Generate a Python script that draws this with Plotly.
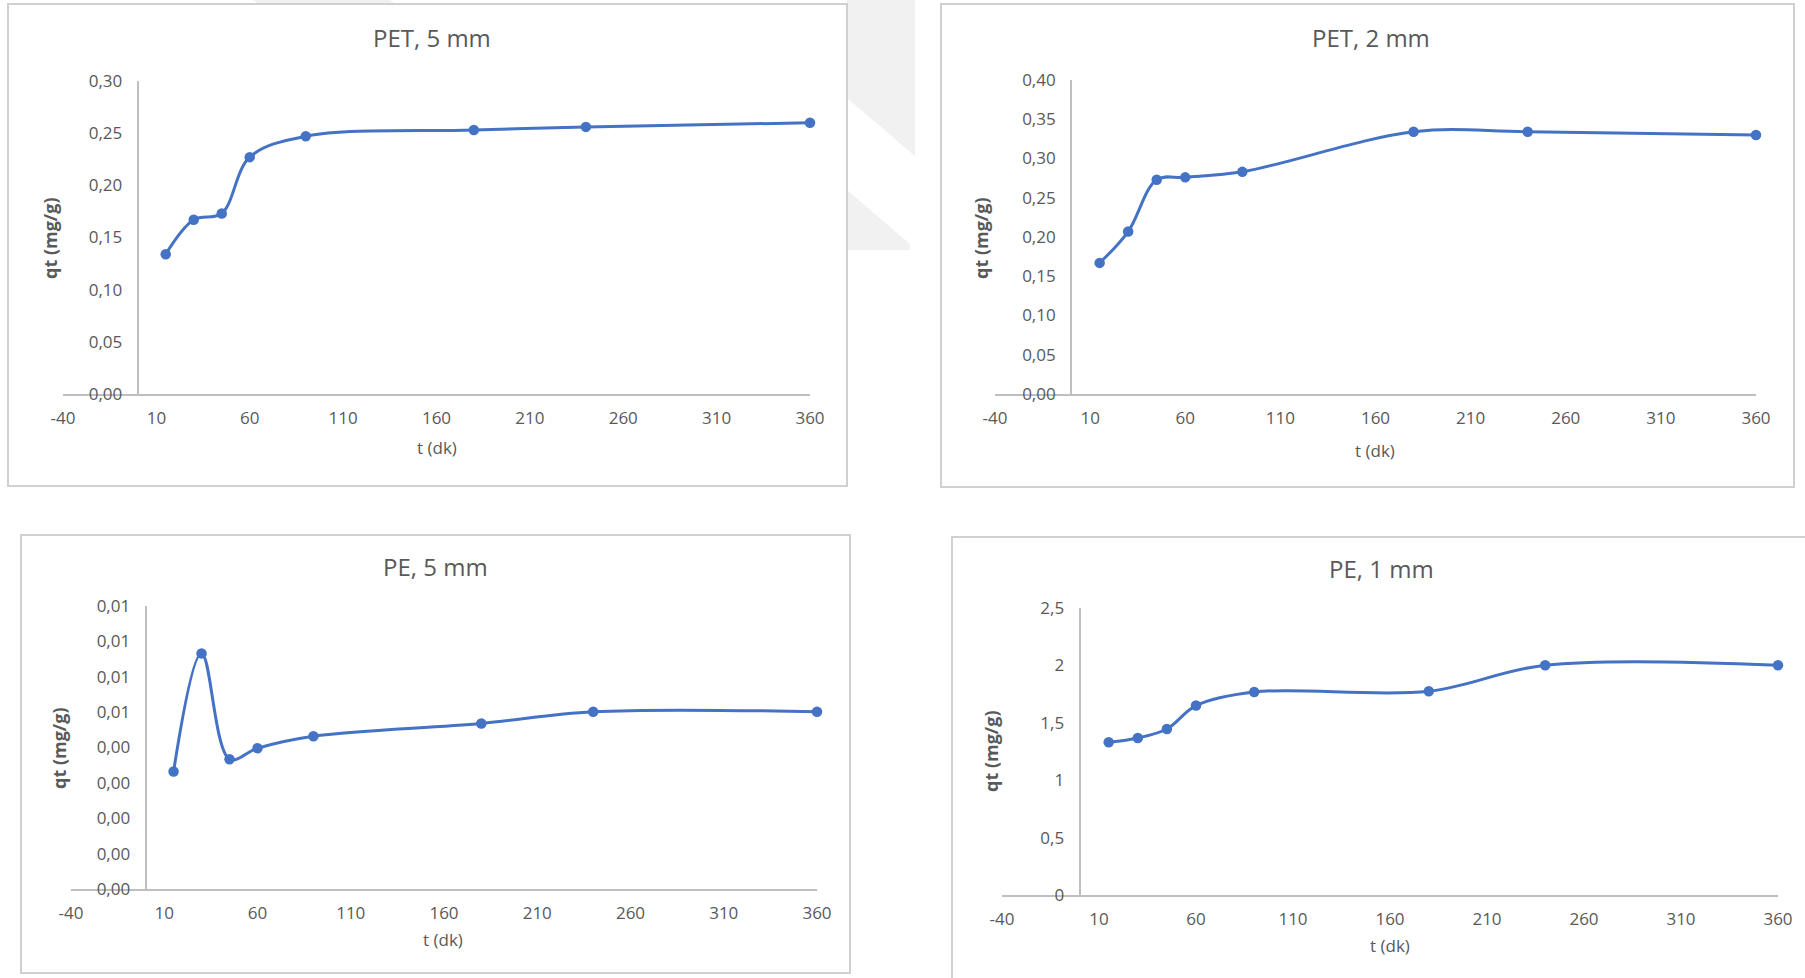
import plotly.graph_objects as go

W, H = 1805, 978

# Contact time (min) and adsorbed amount qt (mg/g) for each sample
t_min = [15, 30, 45, 60, 90, 180, 240, 360]
qt_pet_5mm = [0.134, 0.167, 0.173, 0.227, 0.247, 0.253, 0.256, 0.260]
qt_pet_2mm = [0.167, 0.207, 0.273, 0.276, 0.283, 0.334, 0.334, 0.330]
qt_pe_5mm = [0.00332, 0.00666, 0.00367, 0.00398, 0.00432, 0.00468, 0.00501, 0.00501]
qt_pe_1mm = [1.330, 1.368, 1.446, 1.650, 1.769, 1.775, 2.002, 2.002]

titles = ["PET, 5 mm", "PET, 2 mm", "PE, 5 mm", "PE, 1 mm"]
x_title = "t (dk)"
y_title = "qt (mg/g)"

x_ticks = [-40, 10, 60, 110, 160, 210, 260, 310, 360]
x_ticktext = ["-40", "10", "60", "110", "160", "210", "260", "310", "360"]

y_ticks_pet_5mm = [0.00, 0.05, 0.10, 0.15, 0.20, 0.25, 0.30]
y_text_pet_5mm = ["0,00", "0,05", "0,10", "0,15", "0,20", "0,25", "0,30"]
y_ticks_pet_2mm = [0.00, 0.05, 0.10, 0.15, 0.20, 0.25, 0.30, 0.35, 0.40]
y_text_pet_2mm = ["0,00", "0,05", "0,10", "0,15", "0,20", "0,25", "0,30", "0,35", "0,40"]
y_ticks_pe_5mm = [0.000, 0.001, 0.002, 0.003, 0.004, 0.005, 0.006, 0.007, 0.008]
y_text_pe_5mm = ["0,00", "0,00", "0,00", "0,00", "0,00", "0,01", "0,01", "0,01", "0,01"]
y_ticks_pe_1mm = [0, 0.5, 1, 1.5, 2, 2.5]
y_text_pe_1mm = ["0", "0,5", "1", "1,5", "2", "2,5"]

series = [qt_pet_5mm, qt_pet_2mm, qt_pe_5mm, qt_pe_1mm]
y_ticks = [y_ticks_pet_5mm, y_ticks_pet_2mm, y_ticks_pe_5mm, y_ticks_pe_1mm]
y_texts = [y_text_pet_5mm, y_text_pet_2mm, y_text_pe_5mm, y_text_pe_1mm]

# Layout geometry in pixels
plot_boxes = [  # left, right, top, bottom of each plotting area
    (63, 810, 81, 394),
    (995, 1756, 80, 394),
    (71, 817, 606, 889),
    (1002, 1778, 608, 895),
]
frames = [  # chart-area frames
    (8, 847, 4, 486),
    (941, 1794, 4, 487),
    (21, 850, 535, 973),
    (952, 1815, 537, 990),
]
title_pos = [(432, 38), (1371, 37), (435, 566), (1381, 568)]
xtitle_pos = [(437, 448), (1375, 450), (443, 939), (1390, 945)]
ytitle_pos = [(50, 238), (981, 238), (59, 748), (991, 751)]

FONT = "Open Sans, Carlito, Calibri, sans-serif"
TXT = "#595959"
AXIS = "#BFBFBF"
BLUE = "#4472C4"
X_RANGE = [-40, 360]


def px_x(v):
    return v / W


def px_y(v):
    return 1 - v / H


def poly(points):
    return "M " + " L ".join("{},{}".format(px_x(x), px_y(y)) for x, y in points) + " Z"


fig = go.Figure()
layout = dict(
    width=W, height=H,
    margin=dict(l=0, r=0, t=0, b=0, autoexpand=False),
    paper_bgcolor="white", plot_bgcolor="rgba(0,0,0,0)",
    showlegend=False,
    font=dict(family=FONT, color=TXT),
    shapes=[], annotations=[],
)

# faint diagonal strokes of the page background mark
for pts in [
    [(253, 0), (390, 0), (470, 60), (333, 60)],
    [(847, 0), (915, 0), (915, 156), (847, 98)],
    [(847, 190), (910, 244), (910, 250), (847, 250)],
]:
    layout["shapes"].append(dict(
        type="path", xref="paper", yref="paper", layer="below",
        path=poly(pts), fillcolor="#F1F1F1", line=dict(width=0),
    ))

for i in range(4):
    n = "" if i == 0 else str(i + 1)
    xa, ya = "x" + n, "y" + n
    l, r, t, b = plot_boxes[i]

    # chart frame
    fl, fr, ft, fb = frames[i]
    layout["shapes"].append(dict(
        type="rect", xref="paper", yref="paper", layer="below",
        x0=px_x(fl), x1=px_x(fr), y0=px_y(fb), y1=px_y(ft),
        fillcolor="white", line=dict(color="#D0D0D0", width=2),
    ))

    fig.add_trace(go.Scatter(
        x=t_min, y=series[i], xaxis=xa, yaxis=ya,
        mode="lines+markers",
        line=dict(color=BLUE, width=3, shape="spline", smoothing=1),
        marker=dict(color=BLUE, size=10.5),
        cliponaxis=False,
    ))

    yt = y_ticks[i]
    # vertical axis crosses the horizontal axis at t = 0
    y_axis_px = l + (0 - X_RANGE[0]) / (X_RANGE[1] - X_RANGE[0]) * (r - l)

    layout["xaxis" + n] = dict(
        domain=[px_x(l), px_x(r)], anchor=ya, range=X_RANGE,
        tickvals=x_ticks, ticktext=x_ticktext,
        showgrid=False, zeroline=False, ticks="",
        showline=True, linecolor=AXIS, linewidth=2,
        tickfont=dict(family=FONT, size=17, color=TXT),
        ticklabelstandoff=8, automargin=False,
    )
    layout["yaxis" + n] = dict(
        domain=[px_y(b), px_y(t)], anchor="free",
        position=px_x(y_axis_px), range=[yt[0], yt[-1]],
        tickvals=yt, ticktext=y_texts[i],
        showgrid=False, zeroline=False, ticks="",
        showline=True, linecolor=AXIS, linewidth=2,
        tickfont=dict(family=FONT, size=17, color=TXT),
        ticklabelstandoff=11, automargin=False,
    )

    tx, ty = title_pos[i]
    layout["annotations"].append(dict(
        text=titles[i], xref="paper", yref="paper", x=px_x(tx), y=px_y(ty),
        xanchor="center", yanchor="middle", showarrow=False,
        font=dict(family=FONT, size=24, color=TXT),
    ))
    xx, xy = xtitle_pos[i]
    layout["annotations"].append(dict(
        text=x_title, xref="paper", yref="paper", x=px_x(xx), y=px_y(xy),
        xanchor="center", yanchor="middle", showarrow=False,
        font=dict(family=FONT, size=17, color=TXT),
    ))
    yx, yy = ytitle_pos[i]
    layout["annotations"].append(dict(
        text="<b>" + y_title + "</b>", xref="paper", yref="paper",
        x=px_x(yx), y=px_y(yy), textangle=-90,
        xanchor="center", yanchor="middle", showarrow=False,
        font=dict(family=FONT, size=18, color=TXT),
    ))

fig.update_layout(**layout)
fig.write_html(
    "out.html",
    post_script="document.body.style.margin='0';document.body.style.overflow='hidden';",
)
